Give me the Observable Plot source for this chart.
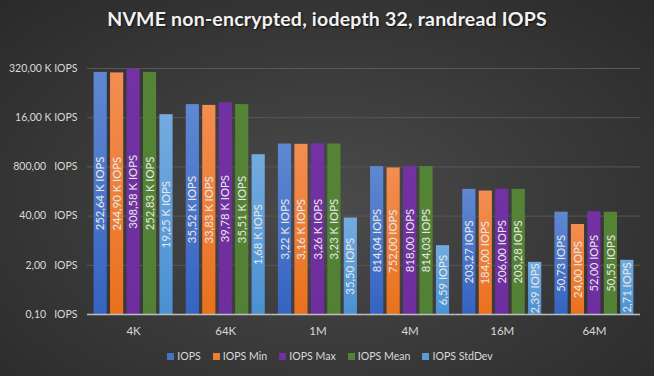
<!DOCTYPE html>
<html>
<head>
<meta charset="utf-8">
<script src="https://cdn.jsdelivr.net/npm/d3@7"></script>
<script src="https://cdn.jsdelivr.net/npm/@observablehq/plot@0.6"></script>
<style>
  html, body { margin: 0; padding: 0; }
  #wrap {
    position: relative; width: 654px; height: 376px; overflow: hidden;
    background: radial-gradient(ellipse at 50% 55%, #4b4b4b 0%, #3a3a3a 50%, #2a2a2a 100%);
    font-family: Lato, "Open Sans", sans-serif;
  }
  #title {
    position: absolute; left: 0; top: 7px; width: 654px; text-align: center;
    color: #f2f2f2; font-weight: bold; font-size: 19.5px; letter-spacing: 0.2px;
    text-shadow: 1px 1px 2px rgba(0,0,0,0.7);
  }
  #chart { position: absolute; left: 0; top: 0; }
  #legend {
    position: absolute; left: 0; top: 350px; width: 654px;
    display: flex; justify-content: center; gap: 12px;
    color: #d9d9d9; font-size: 10.6px; padding-left: 6px; box-sizing: border-box;
  }
  #legend .item { display: flex; align-items: center; gap: 3px; }
  #legend .sw { width: 7px; height: 7px; display: inline-block; }
</style>
</head>
<body>
<div id="wrap">
  <div id="title">NVME non-encrypted, iodepth 32, randread IOPS</div>
  <div id="chart"></div>
  <div id="legend"></div>
</div>
<script>
const categories = ["4K", "64K", "1M", "4M", "16M", "64M"];
const series = ["IOPS", "IOPS Min", "IOPS Max", "IOPS Mean", "IOPS StdDev"];
const iops     = [252640, 35520, 3220, 814.04, 203.27, 50.73];
const iopsMin  = [244900, 33830, 3160, 752.00, 184.00, 24.00];
const iopsMax  = [308580, 39780, 3260, 818.00, 206.00, 52.00];
const iopsMean = [252830, 35510, 3230, 814.03, 203.28, 50.55];
const iopsStd  = [19250, 1680, 35.50, 6.59, 2.39, 2.71];
const yTicks = [0.1, 2, 40, 800, 16000, 320000];
const colors = ["#4472c4", "#ed7d31", "#7030a0", "#548235", "#5b9bd5"];
const gradTop = ["#5f88d2", "#f38d52", "#7232a3", "#558436", "#74abdf"];
const gradBot = ["#3563c1", "#ea711c", "#6e2e9e", "#528034", "#4a91d2"];

const seriesValues = [iops, iopsMin, iopsMax, iopsMean, iopsStd];
const data = [];
categories.forEach((c, i) => {
  series.forEach((s, j) => {
    data.push({cat: c, series: s, value: seriesValues[j][i]});
  });
});

const dec = v => v.toFixed(2).replace(".", ",");
const fmtVal = v => v >= 1000 ? dec(v / 1000) + " K IOPS" : dec(v) + " IOPS";
const fmtTick = v => v >= 1000 ? dec(v / 1000) + " K IOPS" : dec(v) + "\u00a0\u00a0\u00a0IOPS";
const base = 0.1;

const chart = Plot.plot({
  width: 654,
  height: 376,
  marginLeft: 87,
  marginRight: 14,
  marginTop: 68,
  marginBottom: 62,
  style: {background: "transparent", color: "#d9d9d9", fontFamily: "Lato, 'Open Sans', sans-serif", fontSize: "11.5px"},
  fx: {domain: categories, padding: 0, round: false, label: null, axis: "bottom", tickSize: 0, tickPadding: 12},
  x: {domain: series, paddingInner: 0.2, paddingOuter: 0.4, round: false, axis: null},
  y: {type: "log", domain: [base, 320000], axis: null},
  color: {domain: series, range: series.map((s, j) => `url(#grad${j})`)},
  marks: [
    Plot.ruleY(yTicks.slice(1), {stroke: "#585858", strokeWidth: 1}),
    Plot.rectY(data, {fx: "cat", x: "series", y1: base, y2: "value", fill: "series",
      style: "filter: drop-shadow(2px 1px 1.5px rgba(0,0,0,0.45))"}),
    Plot.ruleY([base], {stroke: "#bfbfbf", strokeWidth: 1.3}),
    Plot.text(data, {fx: "cat", x: "series", y: d => Math.sqrt(d.value * base), text: d => fmtVal(d.value),
      rotate: -90, fill: "#e8e8e8", fontSize: 11.3, textAnchor: "middle"}),
    // y-axis tick labels, drawn once in the first facet
    Plot.text(yTicks, {fx: yTicks.map(() => categories[0]), y: d => d, text: fmtTick,
      frameAnchor: "left", textAnchor: "end", dx: -10, fill: "#d9d9d9", fontSize: 10.5})
  ]
});

// gradient definitions for bar fills
const defs = d3.select(chart).insert("defs", ":first-child");
series.forEach((s, j) => {
  const g = defs.append("linearGradient").attr("id", `grad${j}`)
    .attr("x1", 0).attr("y1", 0).attr("x2", 0).attr("y2", 1);
  g.append("stop").attr("offset", "0%").attr("stop-color", gradTop[j]);
  g.append("stop").attr("offset", "100%").attr("stop-color", gradBot[j]);
});

document.getElementById("chart").appendChild(chart);

const legend = document.getElementById("legend");
series.forEach((s, j) => {
  const item = document.createElement("span");
  item.className = "item";
  const sw = document.createElement("span");
  sw.className = "sw";
  sw.style.background = colors[j];
  const t = document.createElement("span");
  t.textContent = s;
  item.appendChild(sw);
  item.appendChild(t);
  legend.appendChild(item);
});
</script>
</body>
</html>
